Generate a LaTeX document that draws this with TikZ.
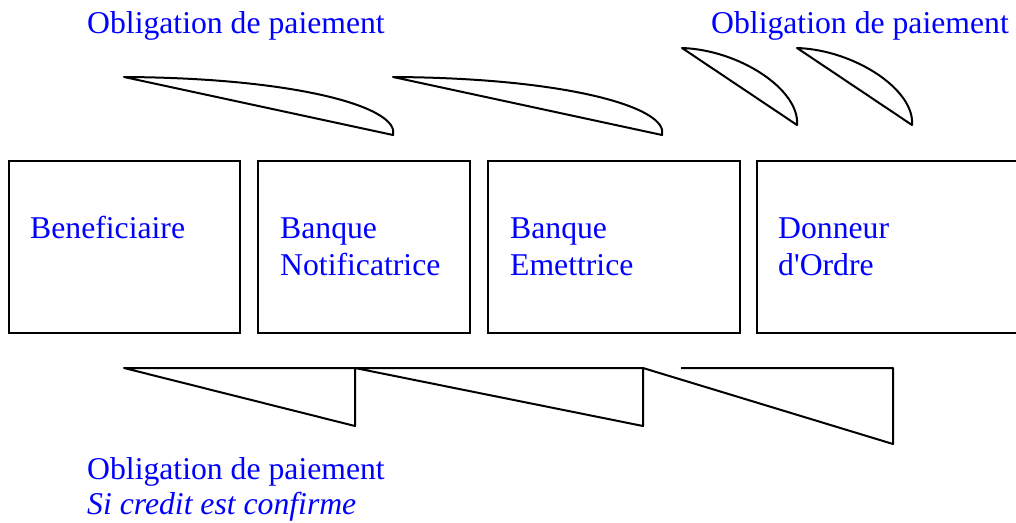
\documentclass[tikz,border=0pt]{standalone}
\usepackage{fontspec}
\setmainfont{Liberation Serif}[Ligatures=TeXOff]
\definecolor{txtblue}{RGB}{0,0,255}
\begin{document}
\begin{tikzpicture}[x=1pt,y=-1pt,
  party/.style={draw=black, line width=2pt, anchor=north west, inner sep=0pt, outer sep=0pt},
  lbl/.style={anchor=base west, inner sep=0pt, text=txtblue, align=left,
    font=\fontsize{31.7}{37}\selectfont},
  flow/.style={draw=black, line width=2pt, line join=round}]
\useasboundingbox (0,0) rectangle (1016,522);

% parties
\node[party, minimum width=231pt, minimum height=172pt] (benef) at (8.7,160.7) {};
\node[party, minimum width=212pt, minimum height=172pt] (notif) at (258,160.7) {};
\node[party, minimum width=252pt, minimum height=172pt] (emet)  at (488,160.7) {};
\node[party, minimum width=270pt, minimum height=172pt] (donn)  at (757,160.7) {};

% names (base anchor sits on the last line)
\node[lbl] (tbenef) at (30,238) {Beneficiaire};
\node[lbl] (tnotif) at (280,275) {Banque\\Notificatrice};
\node[lbl] (temet)  at (510,275) {Banque\\Emettrice};
\node[lbl] (tdonn)  at (778,275) {Donneur\\d'Ordre};

% captions
\node[lbl] (top1) at (87,33) {Obligation de paiement};
\node[lbl] (top2) at (711,33) {Obligation de paiement};
\node[lbl, font=\fontsize{31.7}{35}\selectfont] (bot) at (87,514)
  {Obligation de paiement\\\textit{Si credit est confirme}};

% upper obligations (curved wedges)
\coordinate (u1a) at (124,77);  \coordinate (u1b) at (393,135);
\coordinate (u2a) at (393,77);  \coordinate (u2b) at (662,135);
\coordinate (u3a) at (682,48);  \coordinate (u3b) at (797,125);
\coordinate (u4a) at (797,48);  \coordinate (u4b) at (912,125);
\draw[flow] (u1a) .. controls ++(176,1) and ++(7,-27) .. (u1b) -- cycle;
\draw[flow] (u2a) .. controls ++(176,1) and ++(7,-27) .. (u2b) -- cycle;
\draw[flow] (u3a) .. controls ++(58,2) and ++(3,-35) .. (u3b) -- cycle;
\draw[flow] (u4a) .. controls ++(58,2) and ++(3,-35) .. (u4b) -- cycle;

% lower obligations (straight wedges)
\coordinate (l1a) at (124,368); \coordinate (l1b) at (355,368); \coordinate (l1c) at (355,426);
\coordinate (l2b) at (643,368); \coordinate (l2c) at (643,426);
\coordinate (l3s) at (681,368); \coordinate (l3b) at (893,368); \coordinate (l3c) at (893,444);
\draw[flow] (l1a) -- (l1b) -- (l1c) -- cycle;
\draw[flow] (l1b) -- (l2b) -- (l2c) -- cycle;
\draw[flow] (l3s) -- (l3b) -- (l3c) -- (l2b);
\end{tikzpicture}
\end{document}
